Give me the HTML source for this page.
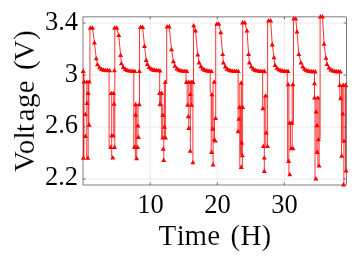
<!DOCTYPE html>
<html><head><meta charset="utf-8"><style>
html,body{margin:0;padding:0;background:#fff;width:358px;height:259px;overflow:hidden}
svg{display:block;will-change:transform}
text{font-family:"Liberation Serif",serif;fill:#000;stroke:#fff;stroke-width:0.15px}
.tk text{stroke-width:0.05px}
</style></head><body>
<svg width="358" height="259" viewBox="0 0 358 259">
<rect width="358" height="259" fill="#fff"/>
<g stroke="#262626" stroke-width="0.6" stroke-opacity="0.15" fill="none"><line x1="83.0" y1="23" x2="346.3" y2="23"/><line x1="83.0" y1="75" x2="346.3" y2="75"/><line x1="83.0" y1="127" x2="346.3" y2="127"/><line x1="83.0" y1="179" x2="346.3" y2="179"/><line x1="150.2" y1="16.9" x2="150.2" y2="185.0"/><line x1="217.3" y1="16.9" x2="217.3" y2="185.0"/><line x1="284.4" y1="16.9" x2="284.4" y2="185.0"/></g>
<g stroke="#262626" stroke-width="0.6" fill="none"><line x1="83.0" y1="23" x2="85.6" y2="23"/><line x1="346.3" y1="23" x2="343.7" y2="23"/><line x1="83.0" y1="75" x2="85.6" y2="75"/><line x1="346.3" y1="75" x2="343.7" y2="75"/><line x1="83.0" y1="127" x2="85.6" y2="127"/><line x1="346.3" y1="127" x2="343.7" y2="127"/><line x1="83.0" y1="179" x2="85.6" y2="179"/><line x1="346.3" y1="179" x2="343.7" y2="179"/><line x1="150.2" y1="185.0" x2="150.2" y2="182.4"/><line x1="150.2" y1="16.9" x2="150.2" y2="19.5"/><line x1="217.3" y1="185.0" x2="217.3" y2="182.4"/><line x1="217.3" y1="16.9" x2="217.3" y2="19.5"/><line x1="284.4" y1="185.0" x2="284.4" y2="182.4"/><line x1="284.4" y1="16.9" x2="284.4" y2="19.5"/><rect x="83.0" y="16.9" width="263.3" height="168.1"/></g>
<g font-size="26.5" class="tk"><text x="78.1" y="29.9" text-anchor="end">3.4</text><text x="78.1" y="81.9" text-anchor="end">3</text><text x="78.1" y="133.0" text-anchor="end">2.6</text><text x="78.1" y="185.0" text-anchor="end">2.2</text><text x="150.5" y="213.1" text-anchor="middle">10</text><text x="217.4" y="213.1" text-anchor="middle">20</text><text x="284.5" y="213.1" text-anchor="middle">30</text></g>
<text x="158.4 176.7 184.6 207.35 230.4 240.4 261.5" y="245.2" font-size="29">Time(H)</text>
<text transform="translate(33.7,0) rotate(-90)" x="-172.1 -154.25 -139.6 -132.0 -121.35 -107.9 -93.25 -69.9 -61.0 -39.9" y="0" font-size="29">Voltage(V)</text>
<g stroke="#ff0000" stroke-width="0.8" fill="none"><polyline points="90.35,27.70 92.45,27.70 94.45,42.40 96.25,58.30 97.45,64.30 99.48,67.35 101.52,68.90 103.55,69.69 105.58,70.09 107.62,70.29 109.65,70.39"/><polyline points="114.60,27.70 116.70,27.70 118.70,35.00 120.60,54.90 121.40,63.30 123.31,67.03 125.23,69.00 127.14,70.04 129.06,70.58 130.97,70.87 132.89,71.03 134.80,71.11"/><polyline points="140.50,27.00 142.60,27.00 144.50,46.00 146.20,60.00 147.40,64.10 149.20,66.99 151.00,68.57 152.80,69.44 154.60,69.92 156.40,70.18 158.20,70.33 160.00,70.40"/><polyline points="167.10,26.50 169.20,26.50 171.50,49.20 173.40,61.20 174.90,65.80 176.90,68.43 178.90,69.78 180.90,70.47 182.90,70.82 184.90,71.01 186.90,71.10"/><polyline points="193.70,25.30 195.50,30.50 197.80,54.60 199.10,62.50 200.87,66.38 202.64,68.53 204.41,69.72 206.19,70.38 207.96,70.75 209.73,70.95 211.50,71.06"/><polyline points="216.70,23.80 218.80,23.80 220.70,32.20 222.70,54.10 223.40,62.50 225.26,66.52 227.12,68.69 228.99,69.85 230.85,70.47 232.71,70.81 234.58,70.99 236.44,71.09 238.30,71.14"/><polyline points="242.60,22.50 244.70,22.50 247.00,30.60 248.60,54.10 249.40,62.50 251.30,66.58 253.20,68.75 255.10,69.90 257.00,70.51 258.90,70.83 260.80,71.01 262.70,71.10 264.60,71.15"/><polyline points="268.55,20.50 270.65,20.50 272.25,44.40 273.95,57.30 275.05,64.90 276.91,67.81 278.76,69.37 280.62,70.22 282.48,70.67 284.34,70.91 286.19,71.05 288.05,71.12"/><polyline points="293.65,18.60 295.75,18.60 296.95,31.40 298.85,54.10 300.95,62.50 302.74,66.58 304.52,68.84 306.31,70.08 308.10,70.76 309.89,71.14 311.68,71.35 313.46,71.46 315.25,71.52"/><polyline points="320.35,16.50 322.45,16.50 324.05,43.70 325.95,57.80 327.05,64.10 328.95,67.62 330.85,69.49 332.75,70.48 334.65,71.00 336.55,71.28 338.45,71.43 340.35,71.51"/><line x1="83.60" y1="71" x2="83.60" y2="157.8"/><line x1="83.90" y1="71" x2="83.90" y2="157.8"/><line x1="86.75" y1="81.6" x2="86.75" y2="157.8"/><line x1="88.15" y1="81.6" x2="88.15" y2="157.8"/><line x1="88.85" y1="81.6" x2="88.85" y2="124.6"/><line x1="89.95" y1="27.7" x2="89.95" y2="81.6"/><line x1="109.10" y1="70.3" x2="109.10" y2="147"/><line x1="111.70" y1="93.1" x2="111.70" y2="157.4"/><line x1="113.80" y1="93.1" x2="113.80" y2="135.6"/><line x1="114.80" y1="27.7" x2="114.80" y2="147"/><line x1="133.80" y1="71" x2="133.80" y2="147"/><line x1="135.40" y1="104.2" x2="135.40" y2="158.3"/><line x1="136.70" y1="104.2" x2="136.70" y2="158.3"/><line x1="138.00" y1="104.2" x2="138.00" y2="136.9"/><line x1="139.50" y1="27" x2="139.50" y2="104.2"/><line x1="159.70" y1="70.3" x2="159.70" y2="104.2"/><line x1="160.60" y1="93" x2="160.60" y2="104.2"/><line x1="161.70" y1="93" x2="161.70" y2="137.4"/><line x1="163.80" y1="137.4" x2="163.80" y2="160"/><line x1="162.80" y1="104" x2="162.80" y2="137.4"/><line x1="164.40" y1="81.8" x2="164.40" y2="137.4"/><line x1="165.40" y1="81.8" x2="165.40" y2="137.4"/><line x1="166.70" y1="26.5" x2="166.70" y2="81.8"/><line x1="186.00" y1="71.2" x2="186.00" y2="82"/><line x1="187.20" y1="82" x2="187.20" y2="104.8"/><line x1="188.80" y1="82" x2="188.80" y2="128"/><line x1="190.40" y1="82" x2="190.40" y2="150.8"/><line x1="191.60" y1="82" x2="191.60" y2="104.8"/><line x1="192.90" y1="82" x2="192.90" y2="162.3"/><line x1="193.50" y1="24.9" x2="193.50" y2="82"/><line x1="210.20" y1="70.3" x2="210.20" y2="93.5"/><line x1="211.20" y1="93.5" x2="211.20" y2="152.2"/><line x1="212.00" y1="93.5" x2="212.00" y2="128.8"/><line x1="213.10" y1="81.8" x2="213.10" y2="164.4"/><line x1="214.50" y1="117.8" x2="214.50" y2="140.9"/><line x1="215.70" y1="23.8" x2="215.70" y2="118.1"/><line x1="238.10" y1="71.4" x2="238.10" y2="131.2"/><line x1="239.80" y1="82.7" x2="239.80" y2="167"/><line x1="240.40" y1="106.9" x2="240.40" y2="155.3"/><line x1="241.60" y1="82.7" x2="241.60" y2="155.3"/><line x1="242.40" y1="106.9" x2="242.40" y2="167"/><line x1="242.70" y1="22.5" x2="242.70" y2="106.9"/><line x1="262.60" y1="71" x2="262.60" y2="108.2"/><line x1="264.30" y1="95.4" x2="264.30" y2="171"/><line x1="265.80" y1="95.4" x2="265.80" y2="146.1"/><line x1="267.60" y1="20.5" x2="267.60" y2="146.1"/><line x1="287.30" y1="71.4" x2="287.30" y2="84.2"/><line x1="287.60" y1="84.2" x2="287.60" y2="160.9"/><line x1="288.90" y1="84.2" x2="288.90" y2="174.3"/><line x1="290.50" y1="122.7" x2="290.50" y2="148.3"/><line x1="292.20" y1="84.2" x2="292.20" y2="148.3"/><line x1="293.50" y1="18.6" x2="293.50" y2="122.7"/><line x1="314.50" y1="72.1" x2="314.50" y2="97.6"/><line x1="315.00" y1="97.6" x2="315.00" y2="178.5"/><line x1="316.20" y1="97.6" x2="316.20" y2="152"/><line x1="317.90" y1="97.6" x2="317.90" y2="165.6"/><line x1="319.10" y1="97.6" x2="319.10" y2="165.6"/><line x1="320.10" y1="16.5" x2="320.10" y2="139.3"/><line x1="339.50" y1="71.6" x2="339.50" y2="84.9"/><line x1="339.80" y1="84.9" x2="339.80" y2="98.8"/><line x1="341.50" y1="84.9" x2="341.50" y2="155.7"/><line x1="342.70" y1="84.9" x2="342.70" y2="140.9"/><line x1="343.90" y1="84.9" x2="343.90" y2="184.4"/><line x1="345.50" y1="84.9" x2="345.50" y2="170.6"/></g>
<path fill="#ff0000" d="M87.85,29.68L92.85,29.68L90.35,25.28ZM89.95,29.68L94.95,29.68L92.45,25.28ZM91.95,44.38L96.95,44.38L94.45,39.98ZM93.75,60.28L98.75,60.28L96.25,55.88ZM94.95,66.28L99.95,66.28L97.45,61.88ZM96.98,69.33L101.98,69.33L99.48,64.93ZM99.02,70.88L104.02,70.88L101.52,66.48ZM101.05,71.67L106.05,71.67L103.55,67.27ZM103.08,72.07L108.08,72.07L105.58,67.67ZM105.12,72.27L110.12,72.27L107.62,67.87ZM107.15,72.37L112.15,72.37L109.65,67.97ZM112.10,29.68L117.10,29.68L114.60,25.28ZM114.20,29.68L119.20,29.68L116.70,25.28ZM116.20,36.98L121.20,36.98L118.70,32.58ZM118.10,56.88L123.10,56.88L120.60,52.48ZM118.90,65.28L123.90,65.28L121.40,60.88ZM120.81,69.01L125.81,69.01L123.31,64.61ZM122.73,70.98L127.73,70.98L125.23,66.58ZM124.64,72.02L129.64,72.02L127.14,67.62ZM126.56,72.56L131.56,72.56L129.06,68.16ZM128.47,72.85L133.47,72.85L130.97,68.45ZM130.39,73.01L135.39,73.01L132.89,68.61ZM132.30,73.09L137.30,73.09L134.80,68.69ZM138.00,28.98L143.00,28.98L140.50,24.58ZM140.10,28.98L145.10,28.98L142.60,24.58ZM142.00,47.98L147.00,47.98L144.50,43.58ZM143.70,61.98L148.70,61.98L146.20,57.58ZM144.90,66.08L149.90,66.08L147.40,61.68ZM146.70,68.97L151.70,68.97L149.20,64.57ZM148.50,70.55L153.50,70.55L151.00,66.15ZM150.30,71.42L155.30,71.42L152.80,67.02ZM152.10,71.90L157.10,71.90L154.60,67.50ZM153.90,72.16L158.90,72.16L156.40,67.76ZM155.70,72.31L160.70,72.31L158.20,67.91ZM157.50,72.38L162.50,72.38L160.00,67.98ZM164.60,28.48L169.60,28.48L167.10,24.08ZM166.70,28.48L171.70,28.48L169.20,24.08ZM169.00,51.18L174.00,51.18L171.50,46.78ZM170.90,63.18L175.90,63.18L173.40,58.78ZM172.40,67.78L177.40,67.78L174.90,63.38ZM174.40,70.41L179.40,70.41L176.90,66.01ZM176.40,71.76L181.40,71.76L178.90,67.36ZM178.40,72.45L183.40,72.45L180.90,68.05ZM180.40,72.80L185.40,72.80L182.90,68.40ZM182.40,72.99L187.40,72.99L184.90,68.59ZM184.40,73.08L189.40,73.08L186.90,68.68ZM191.20,27.28L196.20,27.28L193.70,22.88ZM193.00,32.48L198.00,32.48L195.50,28.08ZM195.30,56.58L200.30,56.58L197.80,52.18ZM196.60,64.48L201.60,64.48L199.10,60.08ZM198.37,68.36L203.37,68.36L200.87,63.96ZM200.14,70.51L205.14,70.51L202.64,66.11ZM201.91,71.70L206.91,71.70L204.41,67.30ZM203.69,72.36L208.69,72.36L206.19,67.96ZM205.46,72.73L210.46,72.73L207.96,68.33ZM207.23,72.93L212.23,72.93L209.73,68.53ZM209.00,73.04L214.00,73.04L211.50,68.64ZM214.20,25.78L219.20,25.78L216.70,21.38ZM216.30,25.78L221.30,25.78L218.80,21.38ZM218.20,34.18L223.20,34.18L220.70,29.78ZM220.20,56.08L225.20,56.08L222.70,51.68ZM220.90,64.48L225.90,64.48L223.40,60.08ZM222.76,68.50L227.76,68.50L225.26,64.10ZM224.62,70.67L229.62,70.67L227.12,66.27ZM226.49,71.83L231.49,71.83L228.99,67.43ZM228.35,72.45L233.35,72.45L230.85,68.05ZM230.21,72.79L235.21,72.79L232.71,68.39ZM232.08,72.97L237.08,72.97L234.58,68.57ZM233.94,73.07L238.94,73.07L236.44,68.67ZM235.80,73.12L240.80,73.12L238.30,68.72ZM240.10,24.48L245.10,24.48L242.60,20.08ZM242.20,24.48L247.20,24.48L244.70,20.08ZM244.50,32.58L249.50,32.58L247.00,28.18ZM246.10,56.08L251.10,56.08L248.60,51.68ZM246.90,64.48L251.90,64.48L249.40,60.08ZM248.80,68.56L253.80,68.56L251.30,64.16ZM250.70,70.73L255.70,70.73L253.20,66.33ZM252.60,71.88L257.60,71.88L255.10,67.48ZM254.50,72.49L259.50,72.49L257.00,68.09ZM256.40,72.81L261.40,72.81L258.90,68.41ZM258.30,72.99L263.30,72.99L260.80,68.59ZM260.20,73.08L265.20,73.08L262.70,68.68ZM262.10,73.13L267.10,73.13L264.60,68.73ZM266.05,22.48L271.05,22.48L268.55,18.08ZM268.15,22.48L273.15,22.48L270.65,18.08ZM269.75,46.38L274.75,46.38L272.25,41.98ZM271.45,59.28L276.45,59.28L273.95,54.88ZM272.55,66.88L277.55,66.88L275.05,62.48ZM274.41,69.79L279.41,69.79L276.91,65.39ZM276.26,71.35L281.26,71.35L278.76,66.95ZM278.12,72.20L283.12,72.20L280.62,67.80ZM279.98,72.65L284.98,72.65L282.48,68.25ZM281.84,72.89L286.84,72.89L284.34,68.49ZM283.69,73.03L288.69,73.03L286.19,68.63ZM285.55,73.10L290.55,73.10L288.05,68.70ZM291.15,20.58L296.15,20.58L293.65,16.18ZM293.25,20.58L298.25,20.58L295.75,16.18ZM294.45,33.38L299.45,33.38L296.95,28.98ZM296.35,56.08L301.35,56.08L298.85,51.68ZM298.45,64.48L303.45,64.48L300.95,60.08ZM300.24,68.56L305.24,68.56L302.74,64.16ZM302.02,70.82L307.02,70.82L304.52,66.42ZM303.81,72.06L308.81,72.06L306.31,67.66ZM305.60,72.74L310.60,72.74L308.10,68.34ZM307.39,73.12L312.39,73.12L309.89,68.72ZM309.18,73.33L314.18,73.33L311.68,68.93ZM310.96,73.44L315.96,73.44L313.46,69.04ZM312.75,73.50L317.75,73.50L315.25,69.10ZM317.85,18.48L322.85,18.48L320.35,14.08ZM319.95,18.48L324.95,18.48L322.45,14.08ZM321.55,45.68L326.55,45.68L324.05,41.28ZM323.45,59.78L328.45,59.78L325.95,55.38ZM324.55,66.08L329.55,66.08L327.05,61.68ZM326.45,69.60L331.45,69.60L328.95,65.20ZM328.35,71.47L333.35,71.47L330.85,67.07ZM330.25,72.46L335.25,72.46L332.75,68.06ZM332.15,72.98L337.15,72.98L334.65,68.58ZM334.05,73.26L339.05,73.26L336.55,68.86ZM335.95,73.41L340.95,73.41L338.45,69.01ZM337.85,73.49L342.85,73.49L340.35,69.09ZM80.70,72.98L85.70,72.98L83.20,68.58ZM81.40,83.58L86.40,83.58L83.90,79.18ZM84.25,83.58L89.25,83.58L86.75,79.18ZM86.75,83.58L91.75,83.58L89.25,79.18ZM85.65,94.88L90.65,94.88L88.15,90.48ZM84.55,104.88L89.55,104.88L87.05,100.48ZM82.95,116.18L87.95,116.18L85.45,111.78ZM86.65,126.68L91.65,126.68L89.15,122.28ZM82.95,137.98L87.95,137.98L85.45,133.58ZM80.90,159.78L85.90,159.78L83.40,155.38ZM85.35,159.78L90.35,159.78L87.85,155.38ZM111.90,72.28L116.90,72.28L114.40,67.88ZM108.70,95.08L113.70,95.08L111.20,90.68ZM110.90,95.08L115.90,95.08L113.40,90.68ZM111.50,105.68L116.50,105.68L114.00,101.28ZM109.10,137.58L114.10,137.58L111.60,133.18ZM110.70,137.58L115.70,137.58L113.20,133.18ZM108.20,148.98L113.20,148.98L110.70,144.58ZM112.00,148.98L117.00,148.98L114.50,144.58ZM110.30,159.38L115.30,159.38L112.80,154.98ZM136.90,72.98L141.90,72.98L139.40,68.58ZM133.10,106.18L138.10,106.18L135.60,101.78ZM136.80,106.18L141.80,106.18L139.30,101.78ZM133.10,116.68L138.10,116.68L135.60,112.28ZM135.50,127.58L140.50,127.58L138.00,123.18ZM135.90,138.88L140.90,138.88L138.40,134.48ZM132.00,148.98L137.00,148.98L134.50,144.58ZM135.10,148.98L140.10,148.98L137.60,144.58ZM134.20,160.28L139.20,160.28L136.70,155.88ZM157.10,94.98L162.10,94.98L159.60,90.58ZM159.10,94.98L164.10,94.98L161.60,90.58ZM162.80,83.78L167.80,83.78L165.30,79.38ZM157.50,106.18L162.50,106.18L160.00,101.78ZM160.30,116.98L165.30,116.98L162.80,112.58ZM161.90,128.78L166.90,128.78L164.40,124.38ZM160.30,139.38L165.30,139.38L162.80,134.98ZM163.00,139.38L168.00,139.38L165.50,134.98ZM160.70,150.68L165.70,150.68L163.20,146.28ZM161.20,161.98L166.20,161.98L163.70,157.58ZM183.90,83.98L188.90,83.98L186.40,79.58ZM186.30,83.98L191.30,83.98L188.80,79.58ZM188.70,83.98L193.70,83.98L191.20,79.58ZM190.40,83.98L195.40,83.98L192.90,79.58ZM187.90,95.98L192.90,95.98L190.40,91.58ZM185.20,106.78L190.20,106.78L187.70,102.38ZM189.10,106.78L194.10,106.78L191.60,102.38ZM185.80,118.18L190.80,118.18L188.30,113.78ZM186.30,129.98L191.30,129.98L188.80,125.58ZM187.70,152.78L192.70,152.78L190.20,148.38ZM190.40,164.28L195.40,164.28L192.90,159.88ZM209.40,96.28L214.40,96.28L211.90,91.88ZM211.70,83.78L216.70,83.78L214.20,79.38ZM213.10,120.08L218.10,120.08L215.60,115.68ZM210.30,130.68L215.30,130.68L212.80,126.28ZM211.80,141.28L216.80,141.28L214.30,136.88ZM212.80,142.58L217.80,142.58L215.30,138.18ZM209.10,153.88L214.10,153.88L211.60,149.48ZM210.60,166.38L215.60,166.38L213.10,161.98ZM238.80,84.68L243.80,84.68L241.30,80.28ZM237.20,108.88L242.20,108.88L239.70,104.48ZM240.10,108.88L245.10,108.88L242.60,104.48ZM236.40,120.68L241.40,120.68L238.90,116.28ZM235.60,133.18L240.60,133.18L238.10,128.78ZM239.20,144.58L244.20,144.58L241.70,140.18ZM239.90,157.28L244.90,157.28L242.40,152.88ZM238.70,168.98L243.70,168.98L241.20,164.58ZM263.10,97.38L268.10,97.38L265.60,92.98ZM260.40,110.18L265.40,110.18L262.90,105.78ZM263.70,134.58L268.70,134.58L266.20,130.18ZM260.90,148.08L265.90,148.08L263.40,143.68ZM265.00,148.08L270.00,148.08L267.50,143.68ZM261.80,159.58L266.80,159.58L264.30,155.18ZM261.80,172.98L266.80,172.98L264.30,168.58ZM285.60,86.18L290.60,86.18L288.10,81.78ZM290.40,86.18L295.40,86.18L292.90,81.78ZM287.20,124.68L292.20,124.68L289.70,120.28ZM289.60,124.68L294.60,124.68L292.10,120.28ZM288.80,150.28L293.80,150.28L291.30,145.88ZM290.60,150.28L295.60,150.28L293.10,145.88ZM286.10,162.98L291.10,162.98L288.60,158.58ZM287.30,176.28L292.30,176.28L289.80,171.88ZM312.00,85.18L317.00,85.18L314.50,80.78ZM312.00,99.58L317.00,99.58L314.50,95.18ZM315.40,99.58L320.40,99.58L317.90,95.18ZM313.70,113.58L318.70,113.58L316.20,109.18ZM314.60,127.18L319.60,127.18L317.10,122.78ZM315.90,141.28L320.90,141.28L318.40,136.88ZM314.70,153.98L319.70,153.98L317.20,149.58ZM316.60,167.58L321.60,167.58L319.10,163.18ZM313.40,180.48L318.40,180.48L315.90,176.08ZM337.30,86.88L342.30,86.88L339.80,82.48ZM340.70,86.88L345.70,86.88L343.20,82.48ZM343.20,86.88L348.20,86.88L345.70,82.48ZM338.20,100.18L343.20,100.18L340.70,95.78ZM340.20,115.58L345.20,115.58L342.70,111.18ZM341.50,142.78L346.50,142.78L344.00,138.38ZM339.20,157.68L344.20,157.68L341.70,153.28ZM343.60,172.58L348.60,172.58L346.10,168.18ZM341.00,186.38L346.00,186.38L343.50,181.98Z"/>
</svg>
</body></html>
